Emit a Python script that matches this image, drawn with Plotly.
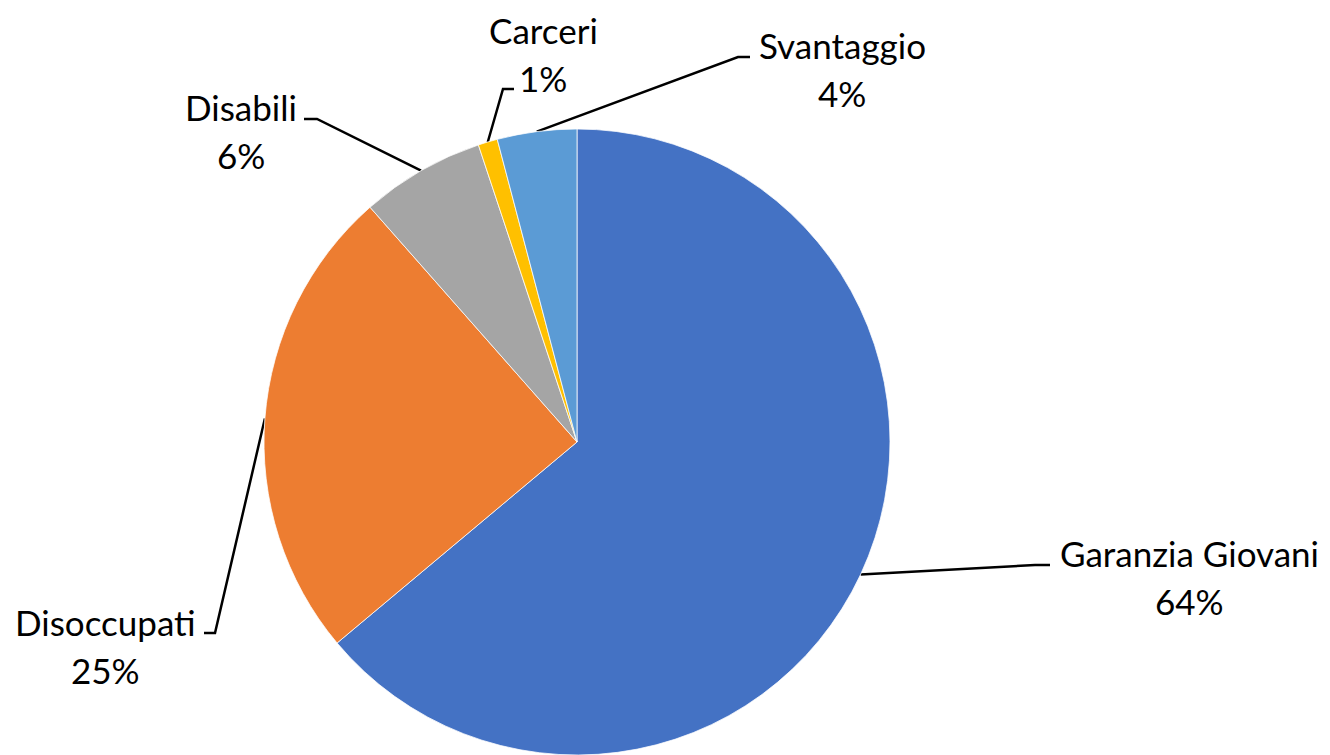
import math
import plotly.graph_objects as go

# ---- data ----
categories = ["Garanzia Giovani", "Disoccupati", "Disabili", "Carceri", "Svantaggio"]
values = [63.9, 24.6, 6.4, 1.0, 4.1]
colors = ["#4472C4", "#ED7D31", "#A5A5A5", "#FFC000", "#5B9BD5"]

# ---- layout constants (page pixels) ----
W, H = 1330, 755
OFF = 8  # page body margin
CX, CY, R = 577, 442, 313

label_layout = {
    "Garanzia Giovani": dict(x=1189, y=553, elbow=(1035, 565), end=(1050, 565)),
    "Disoccupati": dict(x=105, y=622, elbow=(215, 633), end=(204, 633)),
    "Disabili": dict(x=241, y=107, elbow=(317, 119), end=(304, 119)),
    "Carceri": dict(x=543, y=30, elbow=(503, 89), end=(514, 89)),
    "Svantaggio": dict(x=842, y=45, elbow=(738, 57), end=(750, 57)),
}
LINE_GAP = 48
FONT = "Lato, Calibri, sans-serif"
FSIZE = 35

fx, fy = CX - OFF, CY - OFF  # center in figure coordinates
fig = go.Figure()
fig.add_trace(go.Pie(
    labels=categories, values=values, sort=False, direction="clockwise",
    rotation=0, textinfo="none", hoverinfo="label+percent",
    marker=dict(colors=colors, line=dict(color="white", width=0.75)),
    domain=dict(x=[(fx - R) / W, (fx + R) / W], y=[(H - fy - R) / H, (H - fy + R) / H]),
    showlegend=False,
))

total = sum(values)
cum = 0.0
annotations = []
for cat, v in zip(categories, values):
    mid = (cum + v / 2) / total * 2 * math.pi
    cum += v
    ex = CX + R * math.sin(mid)
    ey = CY - R * math.cos(mid)
    L = label_layout[cat]
    xs = [ex, L["elbow"][0], L["end"][0]]
    ys = [ey, L["elbow"][1], L["end"][1]]
    fig.add_trace(go.Scatter(x=xs, y=ys, mode="lines", line=dict(color="black", width=2.5),
                             hoverinfo="skip", showlegend=False, xaxis="x", yaxis="y"))
    pct = f"{round(v / total * 100)}%"
    for txt, yy in ((cat, L["y"]), (pct, L["y"] + LINE_GAP)):
        annotations.append(dict(x=L["x"], y=yy, text=txt, showarrow=False, xref="x", yref="y",
                                xanchor="center", yanchor="middle",
                                font=dict(family=FONT, size=FSIZE, color="black")))

fig.update_layout(
    width=W, height=H, margin=dict(l=0, r=0, t=0, b=0),
    paper_bgcolor="white", plot_bgcolor="rgba(0,0,0,0)",
    xaxis=dict(range=[OFF, W + OFF], visible=False, domain=[0, 1], fixedrange=True),
    yaxis=dict(range=[H + OFF, OFF], visible=False, domain=[0, 1], fixedrange=True),
    annotations=annotations,
)

fig.write_html("out.html")
